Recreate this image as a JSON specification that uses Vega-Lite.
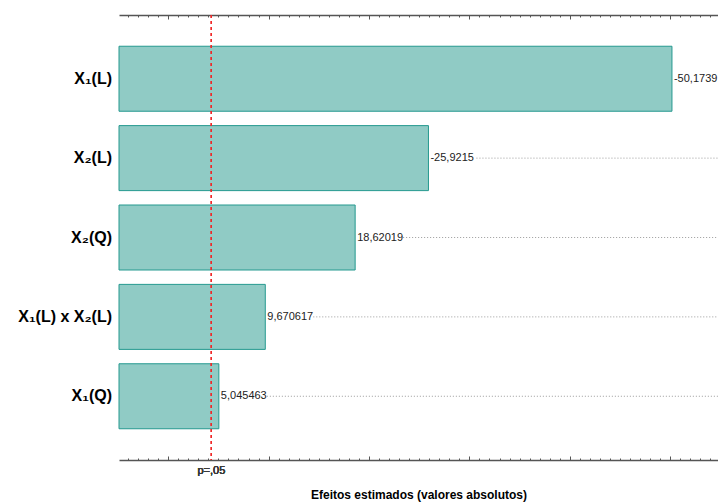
{
  "$schema": "https://vega.github.io/schema/vega-lite/v6.json",
  "width": 599,
  "height": 445,
  "autosize": "none",
  "padding": {"left": 119, "top": 15, "right": 0, "bottom": 43},
  "background": "white",
  "config": {
    "font": "Liberation Sans",
    "view": {"stroke": null},
    "axis": {"zindex": 1, "grid": false, "labels": false, "title": null, "domainColor": "#555555", "domainWidth": 1.5, "tickColor": "#555555", "tickWidth": 1}
  },
  "data": {
    "values": [
      {"term": "X₁(L)", "pos": 1, "abs": 50.1739, "label": "-50,1739"},
      {"term": "X₂(L)", "pos": 2, "abs": 25.9215, "label": "-25,9215"},
      {"term": "X₂(Q)", "pos": 3, "abs": 18.62019, "label": "18,62019"},
      {"term": "X₁(L) x X₂(L)", "pos": 4, "abs": 9.670617, "label": "9,670617"},
      {"term": "X₁(Q)", "pos": 5, "abs": 5.045463, "label": "5,045463"}
    ]
  },
  "resolve": {"axis": {"x": "independent"}},
  "layer": [
    {
      "mark": {"type": "rule", "color": "#9a9a9a", "strokeDash": [1, 2], "strokeWidth": 1, "xOffset": 48},
      "encoding": {
        "x": {"field": "abs", "type": "quantitative",
          "scale": {"domain": [-4.9, 54.76], "nice": false, "zero": false},
          "axis": {"orient": "top", "tickSize": -2,
            "values": [-4,-3,-2,-1,0,1,2,3,4,5,6,7,8,9,10,11,12,13,14,15,16,17,18,19,20,21,22,23,24,25,26,27,28,29,30,31,32,33,34,35,36,37,38,39,40,41,42,43,44,45,46,47,48,49,50,51,52,53,54]}},
        "x2": {"datum": 54.76},
        "y": {"field": "pos", "type": "quantitative", "axis": null,
          "scale": {"domain": [0.26, 5.74], "reverse": true, "nice": false, "zero": false}}
      }
    },
    {
      "mark": {"type": "bar", "size": 65, "fill": "#90cbc5", "stroke": "#25998f", "strokeWidth": 1},
      "encoding": {
        "x": {"field": "abs", "type": "quantitative",
          "axis": {"orient": "bottom", "title": "Efeitos estimados (valores absolutos)", "tickSize": -2,
            "values": [-4,-3,-2,-1,0,1,2,3,4,5,6,7,8,9,10,11,12,13,14,15,16,17,18,19,20,21,22,23,24,25,26,27,28,29,30,31,32,33,34,35,36,37,38,39,40,41,42,43,44,45,46,47,48,49,50,51,52,53,54],
            "titleFontSize": 12, "titleFontWeight": "bold", "titleColor": "#000000", "titlePadding": 29}},
        "x2": {"datum": -4.9},
        "y": {"field": "pos", "type": "quantitative",
          "axis": {"orient": "left", "tickSize": -3,
            "values": [0.5,0.75,1,1.25,1.5,1.75,2,2.25,2.5,2.75,3,3.25,3.5,3.75,4,4.25,4.5,4.75,5,5.25,5.5]}}
      }
    },
    {
      "mark": {"type": "text", "align": "left", "baseline": "middle", "dx": 2, "fontSize": 11, "color": "#222222"},
      "encoding": {
        "x": {"field": "abs", "type": "quantitative",
          "axis": {"orient": "bottom", "domain": false, "tickSize": -4, "values": [0, 10, 20, 30, 40, 50]}},
        "y": {"field": "pos", "type": "quantitative", "axis": null},
        "text": {"field": "label"}
      }
    },
    {
      "mark": {"type": "text", "align": "right", "baseline": "middle", "dx": -7, "fontSize": 16, "fontWeight": "bold", "color": "#000000"},
      "encoding": {
        "x": {"datum": -4.9, "type": "quantitative",
          "axis": {"orient": "top", "domain": false, "tickSize": -4, "values": [0, 10, 20, 30, 40, 50]}},
        "y": {"field": "pos", "type": "quantitative", "axis": null},
        "text": {"field": "term"}
      }
    },
    {
      "mark": {"type": "rule", "color": "#f02828", "strokeDash": [3, 3], "strokeWidth": 1.2},
      "encoding": {
        "x": {"datum": 4.303, "type": "quantitative", "axis": null}
      }
    },
    {
      "mark": {"type": "text", "align": "center", "baseline": "middle", "dy": 16, "fontSize": 11, "fontWeight": "normal", "color": "#3a3a3a"},
      "encoding": {
        "x": {"datum": 4.303, "type": "quantitative", "axis": null},
        "y": {"datum": 5.74, "type": "quantitative", "axis": null},
        "text": {"value": "p=,05"}
      }
    }
  ]
}
